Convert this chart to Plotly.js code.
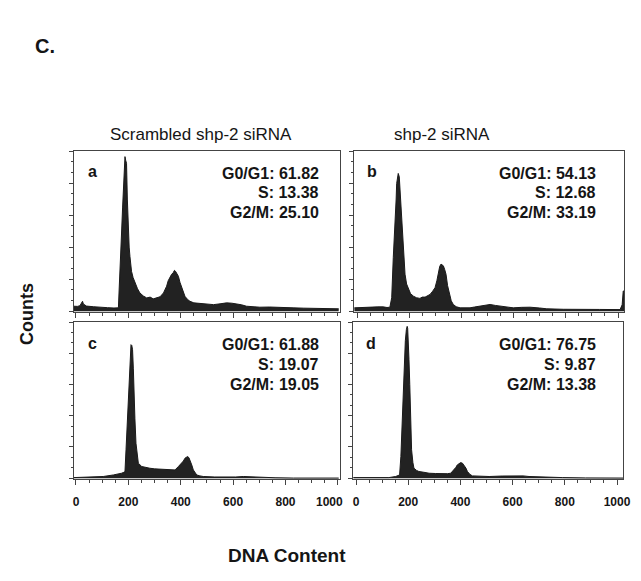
<!DOCTYPE html>
<html>
<head>
<meta charset="utf-8">
<script src="https://cdn.plot.ly/plotly-3.0.1.min.js"></script>
<style>html,body{margin:0;padding:0;background:#fff;} #chart{width:641px;height:581px;}</style>
</head>
<body>
<div id="chart"></div>
<script>
// ---- data ----
const dnaA = [-8, 5, 15, 22, 25, 28, 40, 66, 90, 120, 145, 162, 165, 170, 174, 178, 181, 184, 187, 190, 193, 196, 200, 203, 206, 212, 218, 225, 235, 244, 257, 270, 283, 295, 308, 321, 334, 346, 352, 359, 365, 371, 376, 380, 385, 391, 397, 403, 410, 416, 425, 435, 450, 473, 500, 525, 550, 575, 595, 613, 632, 651, 675, 702, 740, 780, 829, 870, 920, 960, 1003];
const countsA = [3.1, 3.0, 3.4, 5.8, 6.2, 4.5, 3.2, 2.8, 2.4, 2.2, 2.0, 2.1, 14.5, 30, 48.8, 65, 79.9, 88, 96.5, 94, 92.3, 70, 48.8, 40, 34.2, 24.9, 21, 17.6, 14, 11.4, 9.5, 8.3, 8.8, 7.7, 8.5, 9.0, 11.4, 15.6, 19, 21.8, 23, 24, 25.5, 24.9, 23.5, 21.8, 18, 15.6, 12, 9.3, 7.5, 6.2, 5.2, 4.8, 4.5, 4.1, 4.6, 5.2, 5.0, 4.6, 4.0, 3.1, 2.8, 2.5, 2.6, 2.2, 2.1, 1.9, 1.7, 1.6, 1.5];

const dnaB = [-10, 10, 37, 60, 80, 101, 115, 126, 133, 139, 143, 146, 150, 152, 155, 158, 162, 165, 169, 175, 180, 184, 190, 197, 205, 216, 228, 241, 250, 261, 270, 280, 290, 299, 306, 312, 317, 322, 327, 331, 336, 341, 347, 354, 361, 369, 380, 395, 415, 433, 450, 471, 490, 510, 530, 548, 575, 599, 630, 663, 700, 727, 790, 854, 930, 1008, 1016, 1020, 1023];
const countsB = [2.1, 2.3, 2.7, 2.9, 2.7, 2.7, 2.3, 2.5, 8.4, 33.5, 45, 54.5, 70, 79.7, 84, 86, 83.9, 75, 65, 44, 30, 23.1, 17, 13.6, 11, 9.4, 8.4, 8.0, 8.8, 8.8, 9.5, 10.5, 12.5, 14.7, 19, 25.2, 28, 29.4, 29, 28.3, 26, 23.1, 16, 10.5, 6.5, 4.2, 2.8, 2.1, 2.1, 2.1, 2.6, 3.1, 3.6, 4.2, 3.6, 3.1, 2.5, 2.1, 2.4, 2.5, 2.0, 1.5, 1.2, 1.0, 1.1, 1.0, 4, 12.6, 12.6];

const dnaC = [-8, 20, 66, 104, 143, 160, 174, 183, 187, 191, 194, 197, 201, 204, 207, 210, 213, 216, 219, 221, 225, 229, 238, 251, 265, 282, 300, 321, 340, 359, 378, 391, 403, 410, 416, 422, 426, 431, 435, 442, 448, 455, 461, 473, 486, 530, 575, 610, 639, 670, 702, 760, 830, 900, 1003];
const countsC = [0.4, 0.5, 0.5, 1.1, 2.1, 2.6, 3.2, 3.8, 4.3, 18.2, 30, 43.8, 58, 71.6, 80, 85.5, 85, 82.3, 70, 54.5, 38, 22.4, 9.6, 7.5, 6.9, 6.4, 6.0, 5.8, 5.6, 5.8, 5.3, 7.5, 9.6, 11, 12.8, 13.5, 13.9, 13.2, 11.8, 8.5, 5.3, 3.5, 2.1, 1.5, 1.1, 0.8, 0.6, 0.8, 1.1, 0.8, 0.4, 0.3, 0.1, 0.1, 0.1];

const dnaD = [-10, 30, 80, 126, 152, 162, 167, 172, 176, 179, 182, 185, 189, 193, 196, 198, 201, 203, 206, 208, 211, 213, 218, 222, 232, 241, 260, 280, 305, 331, 350, 363, 375, 383, 388, 395, 401, 408, 414, 421, 427, 436, 446, 475, 510, 560, 612, 640, 663, 720, 791, 880, 1008, 1023];
const countsD = [0.4, 0.4, 0.5, 0.4, 1.1, 1.6, 2.1, 13.9, 30, 43.8, 60, 75.9, 88, 95.1, 97.2, 96, 88, 75.9, 60, 43.8, 30, 18.2, 10, 6.4, 5.0, 4.3, 3.8, 3.2, 3.0, 2.8, 2.9, 3.2, 5.3, 7, 8.5, 9.5, 10, 9.6, 8.5, 6.5, 4.3, 2.5, 1.5, 1.2, 1.1, 1.4, 1.7, 1.5, 1.1, 0.7, 0.4, 0.2, 0.1, 0.1];

const panelLetters = ['a', 'b', 'c', 'd'];
const phaseLabels = ['G0/G1', 'S', 'G2/M'];
const statsA = ['61.82', '13.38', '25.10'];
const statsB = ['54.13', '12.68', '33.19'];
const statsC = ['61.88', '19.07', '19.05'];
const statsD = ['76.75', '9.87', '13.38'];
const columnTitles = ['Scrambled shp-2 siRNA', 'shp-2 siRNA'];
const xTickVals = [0, 200, 400, 600, 800, 1000];
const xTickText = ['0', '200', '400', '600', '800', '1000'];

// ---- layout helpers ----
const W = 641, H = 581;
const px = v => v / W;
const py = v => 1 - v / H;
const ink = '#151515';
const fontMain = 'Liberation Sans, Arial, sans-serif';
const tickFont = {family: fontMain, size: 12, weight: 'bold', color: ink};

// left panels: the last label ("1000") is drawn as an annotation nudged left, as in the reference
const leftTickText = xTickText.map((t, i) => i === xTickText.length - 1 ? '' : t);

const panels = [
  {x: dnaA, y: countsA, stats: statsA, xd: [74, 340], yd: [151, 312], xr: [-7.6, 1008], labels: false, tt: leftTickText},
  {x: dnaB, y: countsB, stats: statsB, xd: [354, 624], yd: [151, 312], xr: [-11.5, 1023], labels: false, tt: xTickText},
  {x: dnaC, y: countsC, stats: statsC, xd: [74, 340], yd: [322, 479], xr: [-7.6, 1008], labels: true, tt: leftTickText},
  {x: dnaD, y: countsD, stats: statsD, xd: [353, 623], yd: [322, 479], xr: [-11.5, 1023], labels: true, tt: xTickText}
];

const traces = [];
const layout = {
  width: W, height: H,
  margin: {l: 0, r: 0, t: 0, b: 0},
  paper_bgcolor: '#fff', plot_bgcolor: '#fff',
  showlegend: false,
  annotations: [],
  font: {family: fontMain, color: ink}
};

panels.forEach((p, i) => {
  const n = i + 1;
  const xk = n === 1 ? 'x' : 'x' + n;
  const yk = n === 1 ? 'y' : 'y' + n;
  traces.push({
    type: 'scatter', mode: 'lines', x: p.x, y: p.y,
    xaxis: xk, yaxis: yk,
    fill: 'tozeroy', fillcolor: '#222222',
    line: {color: '#1a1a1a', width: 1},
    hoverinfo: 'skip'
  });
  layout['xaxis' + (n === 1 ? '' : n)] = {
    domain: [px(p.xd[0]), px(p.xd[1])],
    anchor: yk, range: p.xr,
    showgrid: false, zeroline: false,
    showline: true, linecolor: '#444', linewidth: 1, mirror: true,
    ticks: 'outside', ticklen: 5, tickwidth: 1, tickcolor: '#444',
    tickvals: xTickVals, ticktext: p.tt,
    showticklabels: p.labels,
    tickfont: tickFont,
    ticklabelstandoff: 7,
    minor: {dtick: 50, ticks: 'outside', ticklen: 3, tickcolor: '#444', showgrid: false}
  };
  layout['yaxis' + (n === 1 ? '' : n)] = {
    domain: [py(p.yd[1]), py(p.yd[0])],
    anchor: xk, range: [-0.5, 100],
    showgrid: false, zeroline: false,
    showline: true, linecolor: '#444', linewidth: 1, mirror: true,
    ticks: 'outside', ticklen: 4, tickwidth: 1, tickcolor: '#444',
    dtick: 20, tick0: 0, showticklabels: false,
    minor: {dtick: 20 / 3, ticks: 'outside', ticklen: 2, tickcolor: '#444', showgrid: false}
  };
  // panel letter
  layout.annotations.push({
    xref: 'paper', yref: 'paper',
    x: px(p.xd[0] + 18), y: py(p.yd[0] + 21),
    xanchor: 'center', yanchor: 'middle', showarrow: false,
    text: panelLetters[i],
    font: {family: fontMain, size: 16, weight: 'bold', color: ink}
  });
  // statistics
  const rightX = p.xd[0] < 200 ? 321 : 598;
  phaseLabels.forEach((lab, k) => {
    layout.annotations.push({
      xref: 'paper', yref: 'paper',
      x: px(rightX), y: py(p.yd[0] + 22 + k * 20),
      xanchor: 'right', yanchor: 'middle', showarrow: false,
      text: lab + ': ' + p.stats[k],
      font: {family: fontMain, size: 16, weight: 'bold', color: ink}
    });
  });
});

// "1000" label of the lower-left panel, placed via its own axis scale
layout.annotations.push({
  xref: 'x3', yref: 'paper', x: xTickVals[xTickVals.length - 1], xshift: -8,
  y: py(502), xanchor: 'center', yanchor: 'middle', showarrow: false,
  text: xTickText[xTickText.length - 1], font: tickFont
});

// figure labels
layout.annotations.push(
  {xref: 'paper', yref: 'paper', x: px(33), y: py(46), xanchor: 'left', yanchor: 'middle', showarrow: false,
   text: 'C.', font: {family: fontMain, size: 20, weight: 'bold', color: ink}},
  {xref: 'paper', yref: 'paper', x: px(201), y: py(134), xanchor: 'center', yanchor: 'middle', showarrow: false,
   text: columnTitles[0], font: {family: fontMain, size: 17, color: ink}},
  {xref: 'paper', yref: 'paper', x: px(442), y: py(134), xanchor: 'center', yanchor: 'middle', showarrow: false,
   text: columnTitles[1], font: {family: fontMain, size: 17, color: ink}},
  {xref: 'paper', yref: 'paper', x: px(27), y: py(314), xanchor: 'center', yanchor: 'middle', showarrow: false,
   textangle: -90, text: 'Counts', font: {family: fontMain, size: 18, weight: 'bold', color: ink}},
  {xref: 'paper', yref: 'paper', x: px(287), y: py(555), xanchor: 'center', yanchor: 'middle', showarrow: false,
   text: 'DNA Content', font: {family: fontMain, size: 19, weight: 'bold', color: ink}}
);

Plotly.newPlot('chart', traces, layout, {displayModeBar: false, staticPlot: true});
</script>
</body>
</html>
